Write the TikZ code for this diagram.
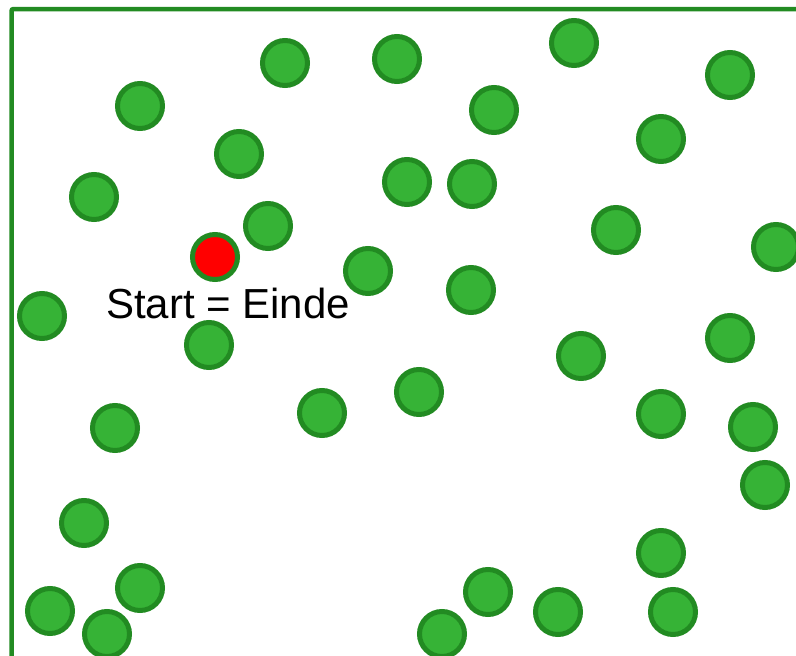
\documentclass[tikz,border=0pt]{standalone}
\usepackage{fontspec}
\setmainfont{Liberation Sans}
\usepackage{xcolor}
\usepackage{tikz}
\definecolor{dotfill}{RGB}{54,179,54}
\definecolor{dotline}{RGB}{34,139,34}
\tikzset{
    dot/.style={
        circle,
        draw=dotline,
        line width=5pt,
        minimum size=45pt,
        inner sep=0pt,
        fill=dotfill
    },
    startdot/.style={
        dot,
        fill=red
    },
    frame/.style={draw=dotline, line width=4.5pt, rounded corners=2pt},
    caption/.style={font=\fontsize{42}{50}\selectfont, inner sep=0pt, anchor=base}
}

\begin{document}
\begin{tikzpicture}[x=1pt,y=-1pt]
    \useasboundingbox (0,0) rectangle (796,656);

    % open frame, left and top edge only
    \draw[frame] (11.5,670) -- (11.5,9) -- (810,9);

    % top rows
    \node[dot] (p1) at (140,106) {};
    \node[dot] (p2) at (285,63) {};
    \node[dot] (p3) at (397,59) {};
    \node[dot] (p4) at (574,43) {};
    \node[dot] (p5) at (730,75) {};
    \node[dot] (p6) at (494,110) {};
    \node[dot] (p7) at (661,139) {};
    \node[dot] (p8) at (239,154) {};
    \node[dot] (p9) at (94,197) {};
    \node[dot] (p10) at (407,182) {};
    \node[dot] (p11) at (472,184) {};
    \node[dot] (p12) at (268,226) {};
    \node[dot] (p13) at (616,230) {};
    \node[dot] (p14) at (776,247) {};

    % middle
    \node[dot] (p15) at (368,271) {};
    \node[dot] (p16) at (471,290) {};
    \node[dot] (p17) at (42,316) {};
    \node[dot] (p18) at (209,345) {};
    \node[dot] (p19) at (730,338) {};
    \node[dot] (p20) at (581,356) {};
    \node[dot] (p21) at (419,392) {};
    \node[dot] (p22) at (322,413) {};
    \node[dot] (p23) at (661,414) {};
    \node[dot] (p24) at (115,428) {};
    \node[dot] (p25) at (753,427) {};
    \node[dot] (p26) at (765,485) {};

    % bottom rows
    \node[dot] (p27) at (84,523) {};
    \node[dot] (p28) at (661,553) {};
    \node[dot] (p29) at (140,588) {};
    \node[dot] (p30) at (488,592) {};
    \node[dot] (p31) at (50,611) {};
    \node[dot] (p32) at (558,612) {};
    \node[dot] (p33) at (673,612) {};
    \node[dot] (p34) at (107,634) {};
    \node[dot] (p35) at (442,634) {};

    % start point
    \node[startdot] (start) at (215,257) {};
    \node[caption] (lbl) at (228,318) {Start = Einde};
\end{tikzpicture}
\end{document}
